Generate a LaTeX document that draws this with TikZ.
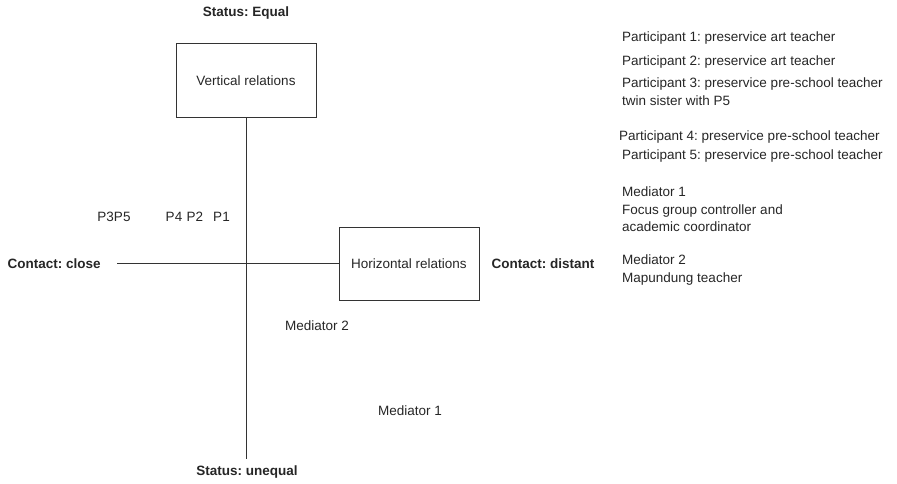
\documentclass[tikz,border=0pt]{standalone}
\usepackage{fontspec}
\setmainfont{Liberation Sans}
\frenchspacing

\newcommand{\diagfont}{\fontsize{13.5}{17.5}\selectfont}

\tikzset{
  relbox/.style={draw=black!80, line width=1pt, minimum width=140pt, minimum height=74pt, inner sep=0pt},
  axisline/.style={draw=black!80, line width=1pt},
  poslabel/.style={font=\diagfont\bfseries},
  note/.style={anchor=west, inner sep=0pt},
  notelines/.style={anchor=north west, inner sep=0pt, align=left},
}

\begin{document}
\begin{tikzpicture}[x=1pt, y=-1pt, font=\diagfont, text=black!85]
  \useasboundingbox (0,0) rectangle (897,484);
  \begin{scope}
    % Boxes
    \node[relbox] (vrel) at (246,81) {Vertical relations};
    \node[relbox, minimum height=73pt] (hrel) at (409,263.5) {Horizontal relations};

    % Axes
    \coordinate (vend) at (246,459);
    \coordinate (hstart) at (117,263.5);
    \draw[axisline] (vrel.south) -- (vend);
    \draw[axisline] (hstart) -- (hrel.west);

    % Axis ends
    \node[poslabel] (equal) at (246,13) {Status: Equal};
    \node[poslabel] (unequal) at (247,472) {Status: unequal};
    \node[poslabel, anchor=west] (close) at (4,263.5) {Contact: close};
    \node[poslabel, anchor=west] (distant) at (488,263.5) {Contact: distant};

    % Participants and mediators on the plane
    \node (p35) at (114,217) {P3P5};
    \foreach \x/\p in {174/4, 195/2, 221.5/1}
      \node (p\p) at (\x,217) {P\p};
    \node (med2) at (317,326) {Mediator 2};
    \node (med1) at (410,411) {Mediator 1};

    % Legend
    \node[note] (leg1) at (622,38) {Participant 1: preservice art teacher};
    \node[note] (leg2) at (622,62) {Participant 2: preservice art teacher};
    \node[notelines] (leg3) at (622,78) {Participant 3: preservice pre-school teacher\\twin sister with P5};
    \node[note] (leg4) at (619,137) {Participant 4: preservice pre-school teacher};
    \node[note] (leg5) at (622,156) {Participant 5: preservice pre-school teacher};
    \node[notelines] (legm1) at (622,187) {Mediator 1\\Focus group controller and\\academic coordinator};
    \node[notelines] (legm2) at (622,255) {Mediator 2\\Mapundung teacher};
  \end{scope}
\end{tikzpicture}
\end{document}
